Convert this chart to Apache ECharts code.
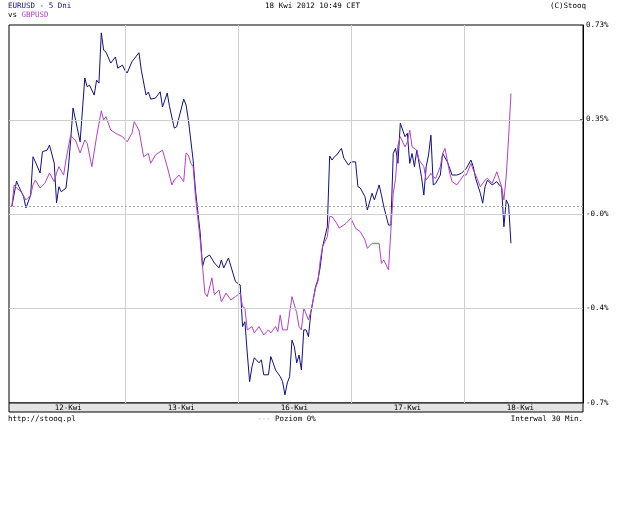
<!DOCTYPE html>
<html>
<head>
<meta charset="utf-8">
<script src="https://cdn.jsdelivr.net/npm/echarts@6/dist/echarts.min.js"></script>
<style>
  html, body { margin: 0; padding: 0; background: #fff; }
  #chart { width: 625px; height: 522px; }
</style>
</head>
<body>
<div id="chart"></div>
<script>
// godziny notowań od 12-Kwi 00:00 (bez weekendu), zmiana w %
const eurTime = [0, 1, 1.5, 2.5, 3, 4, 4.5, 5, 6, 6.5, 7.5, 8, 9, 9.5, 10, 10.5, 11.5, 12, 12.5, 13, 14.5, 15.5, 16, 16.5, 17.5, 18, 18.5, 19, 19.5, 20, 21, 22, 22.5, 23.5,
  24, 24.5, 25.5, 27, 27.5, 28.5, 29, 29.5, 30.5, 31.5, 32, 33, 33.5, 34.5, 35, 36.5, 37, 37.5, 38.5, 39, 40, 40.5, 41, 42, 43, 44, 44.5, 45, 46, 46.5, 47.5,
  48.5, 49, 49.5, 50, 50.5, 51, 51.5, 52.5, 53, 53.5, 54.5, 55, 55.5, 56, 57, 57.5, 58, 58.5, 59, 59.5, 60, 60.5, 61, 61.5, 62, 62.5, 63, 63.5, 64.5, 65, 65.5, 66, 67, 67.5, 68, 68.5, 69, 70, 70.5, 71.5,
  72, 73, 73.5, 74, 75, 75.5, 76.5, 77, 78, 78.5, 79, 80, 80.5, 81, 81.5, 82, 82.5, 83.5, 84, 84.5, 85, 85.5, 86, 87, 87.5, 88, 88.5, 89, 89.5, 90, 91, 91.5, 92.5, 93.5, 94.5, 95.5,
  96.5, 97.5, 98, 98.5, 99.5, 100, 100.5, 101, 102, 103, 103.5, 104, 104.5, 105, 105.5, 106]
const eurValue = [0, 0.10, 0.078, 0.039, -0.006, 0.045, 0.196, 0.176, 0.132, 0.216, 0.222, 0.242, 0.171, 0.015, 0.078, 0.058, 0.073, 0.152, 0.262, 0.388, 0.255, 0.506, 0.472, 0.478, 0.439, 0.498, 0.486, 0.684, 0.616, 0.608, 0.565, 0.589, 0.545, 0.557,
  0.537, 0.526, 0.570, 0.606, 0.537, 0.439, 0.451, 0.423, 0.427, 0.452, 0.392, 0.447, 0.393, 0.309, 0.314, 0.423, 0.400, 0.341, 0.183, 0.065, -0.104, -0.237, -0.203, -0.191, -0.222, -0.242, -0.211, -0.242, -0.203, -0.234, -0.296,
  -0.309, -0.473, -0.454, -0.577, -0.690, -0.631, -0.596, -0.616, -0.604, -0.663, -0.663, -0.591, -0.616, -0.644, -0.670, -0.690, -0.742, -0.695, -0.670, -0.526, -0.552, -0.616, -0.585, -0.644, -0.486, -0.486, -0.513, -0.419, -0.316, -0.289, -0.237, -0.158, -0.080, 0.199, 0.183, 0.196, 0.203, 0.229, 0.191, 0.163,
  0.176, 0.176, 0.078, 0.073, 0.039, -0.014, 0.052, 0.026, 0.085, 0.045, -0.001, -0.073, -0.073, 0.209, 0.229, 0.170, 0.328, 0.275, 0.288, 0.170, 0.209, 0.157, 0.222, 0.117, 0.045, 0.157, 0.203, 0.281, 0.085, 0.091, 0.124, 0.209, 0.176, 0.124, 0.124, 0.131,
  0.150, 0.183, 0.157, 0.111, 0.052, 0.013, 0.078, 0.104, 0.085, 0.098, 0.085, 0.078, -0.080, 0.026, 0.006, -0.145]

const gbpTime = [0, 0.5, 1, 2, 3, 4, 4.5, 5, 6, 7, 8, 9, 9.5, 10, 11, 11.5, 12.5, 13, 13.5, 14.5, 15.5, 16, 17, 18, 19, 19.5, 20, 21, 22, 23.5,
  24.5, 25.5, 26, 27, 28, 29, 29.5, 30.5, 32, 33, 34, 34.5, 35.5, 36.5, 37, 37.5, 38, 38.5, 39, 40, 40.5, 41, 41.5, 42.5, 43, 44, 44.5, 45.5, 46.5, 47.5,
  48.5, 49, 49.5, 50, 51, 51.5, 52.5, 53.5, 54.5, 55, 56, 56.5, 57, 57.5, 58.5, 59, 59.5, 60.5, 61, 61.5, 62, 63, 63.5, 64.5, 65, 65.5, 66, 67, 67.5, 68, 69, 69.5, 70.5, 71,
  72, 73, 74, 75, 75.5, 76.5, 78, 78.5, 79, 80, 80.5, 81, 81.5, 82, 82.5, 83.5, 84, 84.5, 85, 86, 86.5, 87.5, 88, 89, 89.5, 90, 91, 91.5, 92, 93, 93.5, 94.5, 95,
  96, 96.5, 97.5, 98, 98.5, 99.5, 100.5, 101, 102, 103, 104, 104.5, 105, 105.5, 106]
const gbpValue = [0, 0.085, 0.073, 0.058, 0.026, 0.045, 0.085, 0.104, 0.073, 0.091, 0.132, 0.098, 0.132, 0.157, 0.124, 0.183, 0.281, 0.268, 0.262, 0.211, 0.262, 0.249, 0.157, 0.275, 0.377, 0.341, 0.354, 0.301, 0.289, 0.275,
  0.255, 0.288, 0.334, 0.301, 0.196, 0.209, 0.170, 0.203, 0.222, 0.157, 0.085, 0.104, 0.124, 0.098, 0.211, 0.203, 0.171, 0.157, 0.039, -0.132, -0.237, -0.341, -0.355, -0.281, -0.348, -0.329, -0.375, -0.341, -0.368, -0.355,
  -0.341, -0.394, -0.400, -0.486, -0.473, -0.498, -0.473, -0.506, -0.486, -0.498, -0.473, -0.493, -0.427, -0.486, -0.486, -0.419, -0.355, -0.419, -0.473, -0.486, -0.400, -0.447, -0.414, -0.321, -0.296, -0.211, -0.158, -0.119, -0.040, -0.040, -0.066, -0.085, -0.073, -0.066,
  -0.046, -0.086, -0.099, -0.132, -0.165, -0.145, -0.145, -0.224, -0.211, -0.250, -0.093, 0.052, 0.111, 0.242, 0.275, 0.235, 0.255, 0.301, 0.235, 0.222, 0.183, 0.157, 0.104, 0.131, 0.117, 0.111, 0.157, 0.209, 0.229, 0.131, 0.098, 0.085, 0.098,
  0.124, 0.124, 0.170, 0.144, 0.124, 0.078, 0.104, 0.111, 0.091, 0.137, 0.078, 0.026, 0.120, 0.270, 0.445]

const dayLabels = ['12-Kwi', '13-Kwi', '16-Kwi', '17-Kwi', '18-Kwi']
const dayMid = [12, 36, 60, 84, 108]
const daySplit = [24, 48, 72, 96]
const yTicks = [-0.774, -0.4015, -0.029, 0.343, 0.715]
const yLabels = ['-0.7%', '-0.4%', '-0.0%', '0.35%', '0.73%']

const EUR = '#12127a'
const GBP = '#b044c4'
const FONT = 'DejaVu Sans Mono'

const chart = echarts.init(document.getElementById('chart'))

const txt = { fontFamily: FONT, fontSize: 7.5, fontWeight: 'normal', color: '#000' }

chart.setOption({
  animation: false,
  title: [
    { text: 'EURUSD - 5 Dni', left: 8, top: 2, padding: 0, textStyle: { ...txt, color: EUR } },
    {
      text: '{a|vs }{b|GBPUSD}', left: 8, top: 11, padding: 0,
      textStyle: { ...txt, rich: { a: { ...txt }, b: { ...txt, color: GBP } } }
    },
    { text: '18 Kwi 2012 10:49 CET', left: 'center', top: 2, padding: 0, textStyle: txt },
    { text: '(C)Stooq', right: 39, top: 2, padding: 0, textStyle: txt },
    { text: 'http://stooq.pl', left: 8, top: 415, padding: 0, textStyle: txt },
    {
      text: '{d|---}{a| Poziom 0%}', left: 257, top: 415, padding: 0,
      textStyle: { ...txt, rich: { d: { ...txt, color: '#aaa' }, a: { ...txt } } }
    },
    { text: 'Interwal 30 Min.', right: 42, top: 415, padding: 0, textStyle: txt }
  ],
  grid: [
    { left: 9, right: 42, top: 25, bottom: 119, show: true, borderColor: '#000', borderWidth: 1, backgroundColor: '#fff' },
    { left: 9, right: 42, top: 403, height: 9, show: true, borderColor: '#000', borderWidth: 1, backgroundColor: '#e4e4e4', z: 0 }
  ],
  xAxis: [
    {
      type: 'value', gridIndex: 0, min: -0.6, max: 121.3,
      axisLine: { show: false, onZero: false }, axisTick: { show: false }, splitLine: { show: false },
      axisLabel: {
        customValues: dayMid, margin: 1, ...txt,
        formatter: v => dayLabels[dayMid.indexOf(v)] || ''
      },
      z: 5
    },
    { type: 'value', gridIndex: 1, show: false, min: 0, max: 1 }
  ],
  yAxis: [
    {
      type: 'value', gridIndex: 0, position: 'right', min: yTicks[0], max: yTicks[4],
      axisLine: { show: true, onZero: false, lineStyle: { color: '#000' } },
      axisTick: { show: true, inside: true, length: 3, customValues: yTicks, lineStyle: { color: '#666' } },
      splitLine: { show: false },
      axisLabel: {
        customValues: yTicks, margin: 3, ...txt,
        formatter: v => yLabels[yTicks.indexOf(v)] || ''
      }
    },
    { type: 'value', gridIndex: 1, show: false, min: 0, max: 1 }
  ],
  series: [
    {
      type: 'line', name: 'grid', data: [], silent: true, z: 1,
      markLine: {
        silent: true, symbol: ['none', 'none'], label: { show: false }, animation: false,
        lineStyle: { color: '#cfcfcf', width: 1, type: 'solid' },
        data: daySplit.map(d => ({ xAxis: d }))
          .concat(yTicks.slice(1, 4).map(v => ({ yAxis: v })))
          .concat([{ yAxis: 0, lineStyle: { color: '#a8a8a8', type: [2, 2] } }])
      }
    },
    {
      type: 'line', name: 'EURUSD', data: eurTime.map((t, i) => [t, eurValue[i]]),
      showSymbol: false, symbol: 'none', z: 3,
      lineStyle: { color: EUR, width: 1 }
    },
    {
      type: 'line', name: 'GBPUSD', data: gbpTime.map((t, i) => [t, gbpValue[i]]),
      showSymbol: false, symbol: 'none', z: 4,
      lineStyle: { color: GBP, width: 1 }
    }
  ]
})
</script>
</body>
</html>
